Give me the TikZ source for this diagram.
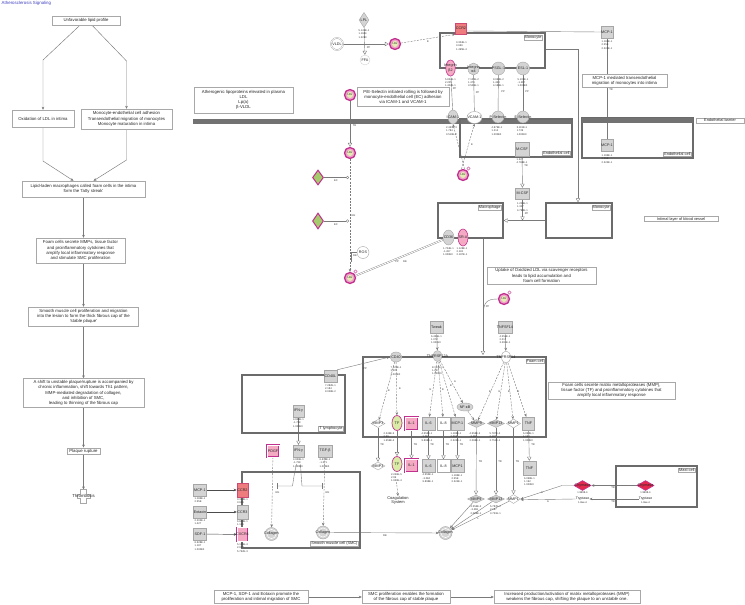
\documentclass[tikz,border=0pt]{standalone}
\usepackage{fontspec}
\setmainfont{Liberation Sans}
\usetikzlibrary{shapes.geometric,arrows.meta,calc}
\pgfdeclarelayer{back}
\pgfdeclarelayer{bg}
\pgfsetlayers{back,bg,main}
\newcommand{\fsz}[2]{\fontsize{#1}{#2}\selectfont}
\newcommand{\numC}{2.246E-5\\2.99\\1.659E-4}
\newcommand{\numD}{4.555E-1\\-3.084\\9.898E-1}
\newcommand{\numE}{1.186E-1\\2.55E\\2.324E-1}
\definecolor{gfill}{HTML}{D4D4D4}
\definecolor{gdraw}{HTML}{A6A6A6}
\definecolor{boxc}{HTML}{A8A8A8}
\definecolor{compc}{HTML}{6B6B6B}
\definecolor{barc}{HTML}{727272}
\definecolor{linec}{HTML}{7A7A7A}
\definecolor{titlec}{HTML}{3F3FC0}
\definecolor{mag}{HTML}{C2308F}
\definecolor{ldlpink}{HTML}{EFA3C9}
\definecolor{ldlgreen}{HTML}{E3EDB2}
\definecolor{pfill}{HTML}{F4AAC2}
\definecolor{sfill}{HTML}{EE7C7E}
\definecolor{sdraw}{HTML}{CF4A72}
\definecolor{tfgreen}{HTML}{D8ECA6}
\definecolor{dgreen}{HTML}{A5CB6C}
\definecolor{redc}{HTML}{E5284E}
\definecolor{numc}{HTML}{333333}
\tikzset{
  lab/.style={font=\fsz{3.7}{4.3}, align=center, inner sep=0pt, text=black!85},
  L/.style={label={[lab]center:#1}},
  tbox/.style={draw=boxc, line width=0.4pt, fill=white, font=\fsz{4.3}{5.2}, align=center, inner sep=0pt, text=black!85},
  comp/.style={draw=compc, line width=1.3pt, inner sep=0pt},
  clab/.style={draw=boxc, line width=0.35pt, fill=white, font=\fsz{3.9}{4.4}, inner sep=0.8pt, text=black!85},
  gbox/.style={rectangle, draw=gdraw, line width=0.4pt, fill=gfill, minimum width=12pt, minimum height=12pt, inner sep=0pt},
  wbox/.style={gbox, fill=white},
  pbox/.style={gbox, fill=pfill, draw=mag, line width=0.45pt, double=white, double distance=0.7pt},
  sbox/.style={gbox, fill=sfill, draw=sdraw, line width=0.6pt},
  gell/.style={ellipse, draw=gdraw, line width=0.4pt, fill=gfill, inner sep=0pt},
  well/.style={gell, fill=white},
  pell/.style={gell, fill=pfill, draw=mag, line width=0.6pt},
  tfell/.style={gell, fill=tfgreen, draw=mag, line width=0.7pt, minimum width=10pt, minimum height=15pt},
  gcir/.style={circle, draw=gdraw, line width=0.4pt, fill=gfill, inner sep=0pt},
  coll/.style={gcir, minimum size=13pt, path picture={\draw[white, line width=0.5pt] (path picture bounding box.center) circle (4.6pt);}},
  gdia/.style={diamond, draw=gdraw, line width=0.4pt, fill=gfill, inner sep=0pt, minimum width=17pt, minimum height=8pt},
  wdia/.style={gdia, fill=white},
  rdia/.style={diamond, draw=mag, line width=0.6pt, fill=redc, inner sep=0pt, minimum width=17pt, minimum height=10pt},
  mdia/.style={diamond, draw=mag, line width=1pt, fill=dgreen, inner sep=0pt, minimum width=11pt, minimum height=15pt},
  ldl/.style={circle, minimum size=11pt, inner sep=0pt, draw=mag, line width=1.3pt, fill=ldlpink,
     path picture={\fill[ldlgreen] (path picture bounding box.center) circle (3pt);},
     label={[lab, font=\fsz{2.7}{3}]center:LDL}},
  nums/.style={font=\fsz{2.6}{3.4}, align=left, inner sep=0pt, anchor=north, text=numc},
  tag/.style={font=\fsz{2.6}{3}, inner sep=0pt, text=numc},
  con/.style={draw=linec, line width=0.4pt},
  dcon/.style={con, dash pattern=on 2pt off 1.2pt},
  oarr/.style={-{Triangle[open, length=4pt, width=4.2pt]}},
  sarr/.style={-{Stealth[length=3pt, width=2.6pt]}},
  carr/.style={-{Circle[open, length=3pt]}},
  barr/.style={-{Bar[width=6pt]}},
  flow/.style={draw=linec, line width=0.45pt, -{Stealth[length=3pt, width=2.6pt]}},
}
\begin{document}
\begin{tikzpicture}[x=1pt,y=-1pt]
\begin{pgfonlayer}{back}
\fill[white] (0,0) rectangle (745,605);
\end{pgfonlayer}
\useasboundingbox (0,0) rectangle (745,605);

\node[anchor=north west, font=\fsz{4.4}{5}, text=titlec, inner sep=0pt] (title) at (1.5,1.5) {Atherosclerosis Signaling};

% ---------------- left flow
\node[tbox, minimum width=68pt, minimum height=9pt] (u) at (86,20.5) {Unfavorable lipid profile};
\node[tbox, minimum width=62pt, minimum height=17pt] (ox) at (43,118.5) {Oxidation of LDL in intima};
\node[tbox, minimum width=91pt, minimum height=20pt] (mo) at (126.5,119) {Monocyte-endothelial cell adhesion\\Transendothelial migration of monocytes\\Monocyte maturation in intima};
\node[tbox, minimum width=123pt, minimum height=16pt] (lip) at (83.5,189) {Lipid-laden macrophages called foam cells in the intima\\form the `fatty streak'};
\node[tbox, minimum width=89pt, minimum height=25pt] (fc) at (80.5,250.5) {Foam cells secrete MMPs, tissue factor\\and proinflammatory cytokines that\\amplify local inflammatory response\\and stimulate SMC proliferation};
\node[tbox, minimum width=110pt, minimum height=19pt] (smcp) at (83.5,316.5) {Smooth muscle cell proliferation and migration\\into the lesion to form the thick fibrous cap of the\\`stable plaque'};
\node[tbox, minimum width=121pt, minimum height=29pt] (shift) at (83.5,393) {A shift to unstable plaque/rupture is accompanied by\\chronic inflammation, shift towards Th1 pattern,\\MMP-mediated degradation of collagen,\\and inhibition of SMC,\\leading to thinning of the fibrous cap};
\node[tbox, minimum width=33pt, minimum height=6.5pt] (pr) at (83.5,451) {Plaque rupture};
\draw[boxc, line width=0.4pt, fill=white] (80.5,489.5) -- (86.5,489.5) -- (86.5,494) -- (90,494) -- (90,498.5) -- (86.5,498.5) -- (86.5,503) -- (80.5,503) -- (80.5,498.5) -- (77,498.5) -- (77,494) -- (80.5,494) -- cycle;
\node[lab, font=\fsz{4.3}{5}] (thr) at (83.5,496) {Thrombosis};

% ---------------- compartments and bars
\fill[barc] (193,118.5) rectangle (572,123.5);
\node[comp, minimum width=105pt, minimum height=35pt] (monot) at (492.5,50.5) {};
\node[clab, anchor=north east] (monotl) at (542.5,34.5) {Monocyte};
\node[comp, minimum width=112pt, minimum height=38pt] (endom) at (516,138) {};
\node[clab, anchor=south east] (endoml) at (570.5,155.5) {Endothelial cell};
\node[comp, minimum width=111pt, minimum height=40pt] (endor) at (637.5,138) {};
\fill[barc] (582,118) rectangle (693,123);
\node[clab, anchor=south east] (endorl) at (691.5,156.5) {Endothelial cell};
\node[clab, minimum width=48pt] (ebar) at (720,120.5) {Endothelial barrier};
\node[comp, minimum width=65pt, minimum height=35pt] (macro) at (470.5,220.5) {};
\node[clab, anchor=north east] (macrol) at (501.5,204.5) {Macrophage};
\node[comp, minimum width=66pt, minimum height=35pt] (monol) at (579,220.5) {};
\node[clab, anchor=north east] (monoll) at (610.5,204.5) {Monocyte};
\node[comp, minimum width=183pt, minimum height=80pt] (foam) at (454.5,397) {};
\node[clab, anchor=north east] (foaml) at (544.5,358.5) {Foam cell};
\node[comp, minimum width=103pt, minimum height=58pt] (tly) at (293.5,404) {};
\node[clab, anchor=south east] (tlyl) at (343.5,431.5) {T lymphocyte};
\node[comp, minimum width=118pt, minimum height=76pt] (smc) at (301,510) {};
\node[clab, anchor=south east] (smcl) at (358.5,546.5) {Smooth muscle cell (SMC)};
\node[comp, minimum width=81pt, minimum height=41pt] (mast) at (656.5,486.5) {};
\node[clab, anchor=north east] (mastl) at (695.5,467.5) {Mast cell};
\node[clab, minimum width=74pt] (intimal) at (681,219) {Intimal layer of blood vessel};

% ---------------- text boxes
\node[tbox, minimum width=99pt, minimum height=26pt] (athero) at (243.5,100) {Atherogenic lipoproteins elevated in plasma\\LDL\\Lp(a)\\β-VLDL};
\node[tbox, minimum width=92pt, minimum height=19pt] (pesel) at (403,97) {P/E-Selectin initiated rolling is followed by\\monocyte-endothelial cell (EC) adhesion\\via ICAM-1 and VCAM-1};
\node[tbox, minimum width=85pt, minimum height=13pt] (mcpt) at (624.5,80.5) {MCP-1 mediated transendothelial\\migration of monocytes into intima};
\node[tbox, minimum width=109pt, minimum height=17pt] (uptake) at (541.5,275.5) {Uptake of Oxidized LDL via scavenger receptors\\leads to lipid accumulation and\\foam cell formation};
\node[tbox, minimum width=127pt, minimum height=17pt] (fcright) at (611.5,390.5) {Foam cells secrete matrix metalloproteases (MMP),\\tissue factor (TF) and proinflammatory cytokines that\\amplify local inflammatory response};
\node[tbox, minimum width=94pt, minimum height=13pt] (b1) at (261,597) {MCP-1, SDF-1 and Eotaxin promote the\\proliferation and intimal migration of SMC};
\node[tbox, minimum width=88pt, minimum height=13pt] (b2) at (406,597) {SMC proliferation enables the formation\\of the fibrous cap of stable plaque};
\node[tbox, minimum width=146pt, minimum height=13pt] (b3) at (567,597) {Increased production/activation of matrix metalloproteases (MMP)\\weakens the fibrous cap, shifting the plaque to an unstable one.};

% ---------------- top molecules
\node[gdia, minimum width=10pt, minimum height=15pt, L=LPL] (lpl) at (364,20) {};
\node[nums] (lpln) at (364,29.5) {5.149E-1\\1.1604\\1.3280};
\node[circle, draw=gdraw, line width=0.4pt, double=white, double distance=0.6pt, fill=white, minimum size=12pt, inner sep=0pt, L=VLDL] (vldl) at (337,44) {};
\node[circle, draw=gdraw!60, line width=0.3pt, minimum size=10pt, inner sep=0pt, L=FFA] (ffa) at (365,60) {};
\node[ldl] (ldl1) at (395,44) {};
\node[sbox, minimum width=11pt, minimum height=11pt, L=CCR2] (ccr2t) at (461,28.5) {};
\node[nums] (ccr2tn) at (461.5,41.5) {3.304E-1\\3.666\\1.495E-4};
\node[gbox, L=MCP-1] (mcp1t) at (607,32) {};
\node[nums] (mcp1tn) at (607,40.5) {\numE};

\node[pell, minimum width=9.5pt, minimum height=16pt, L={Integrin\\β2}] (itb2) at (450.5,68) {};
\node[gell, minimum width=11pt, minimum height=12pt, L={Integrin\\α4}] (ita4) at (473.5,69) {};
\node[gcir, minimum size=13pt, L=PSGL-1] (psgl) at (498.5,68.5) {};
\node[gcir, minimum size=13pt, L=ESL-1] (esl) at (523,68.5) {};
\node[nums] (itb2n) at (450.5,78) {5.834E-1\\2.205\\1.402E-1};
\node[nums] (ita4n) at (473.5,78) {7.106E-2\\1.478\\3.506E-1};
\node[nums] (psgln) at (498.5,78) {9.068E-2\\1.463\\4.186E-1};
\node[nums] (esln) at (523,78) {5.105E-1\\-1.267\\1.000E0};

\node[gell, minimum width=10pt, minimum height=14pt, L=ICAM-1] (icam) at (453,117) {};
\node[well, minimum width=15pt, minimum height=12pt, L=VCAM-1] (vcam) at (474.5,117.5) {};
\node[gcir, minimum size=12pt, L=P-Selectin] (psel) at (498,117) {};
\node[gcir, minimum size=12pt, L=E-Selectin] (esel) at (523,117) {};
\node[nums] (icamn) at (451.5,126.5) {2.461E-3\\1.784\\3.519E-2};
\node[nums] (pseln) at (497,126.5) {4.879E-1\\1.214\\1.000E0};
\node[nums] (eseln) at (522,126.5) {5.119E-1\\1.739\\1.000E0};

\node[gbox, minimum width=14pt, minimum height=14pt, L=M-CSF] (mcsfu) at (522,149.5) {};
\node[nums] (mcsfun) at (522,158.5) {1.327\\4.788E-1};
\node[gbox, minimum width=14pt, minimum height=11pt, L=M-CSF] (mcsfl) at (522.5,193.5) {};
\node[nums] (mcsfln) at (522.5,202.5) {1.206E-1\\1.327\\4.788E-1};
\node[gbox, L=MCP-1] (mcp1e) at (607,145.5) {};
\node[nums] (mcp1en) at (607,154.5) {\numE};

% ---------------- lipids
\node[ldl] (ldl2) at (350,95) {};
\node[ldl] (ldl3) at (350,153) {};
\node[ldl] (ldlx) at (463,175) {};
\node[ldl] (ldl4) at (350,278) {};
\node[ldl] (ldl5) at (504,299) {};
\foreach \q in {ldlx,ldl4,ldl5}{\draw[mag, line width=0.35pt, fill=white] ($(\q.center)+(5.5,-6.5)$) circle (1.6pt);}
\node[mdia] (d1) at (318,177.5) {};
\node[mdia, minimum height=16pt] (d2) at (318,221) {};
\node[circle, draw=gdraw, line width=0.4pt, fill=white, minimum size=12pt, inner sep=0pt, L=ROS] (ros) at (363,252.5) {};
\coordinate (c1) at (349,177.5);
\coordinate (c2) at (349,221);
\coordinate (c3) at (351.5,262);

\node[gell, minimum width=11pt, minimum height=15pt, L=CD36] (cd36) at (448.5,237.5) {};
\node[pell, minimum width=10pt, minimum height=17pt, L=SR-A] (sra) at (463,237.5) {};
\node[nums] (cd36n) at (448.5,247) {1.704E-1\\-1.267\\1.000E0};
\node[nums] (sran) at (462,247) {1.128E-1\\2.181\\2.187E-1};

% ---------------- foam cell
\node[gell, minimum width=12pt, minimum height=10pt, L=CD40] (cd40) at (396,357) {};
\node[nums] (cd40n) at (396,366.5) {7.125E-1\\1.305\\1.000E0};
\node[gbox, minimum width=13pt, minimum height=12pt, L=Tweak] (tweak) at (436.5,327.5) {};
\node[nums] (tweakn) at (436.5,335) {6.456E-1\\1.072\\1.000E0};
\node[gell, minimum width=9pt, minimum height=11pt, L=TNFRSF12A] (tnfr12) at (437.5,356) {};
\node[nums] (tnfr12n) at (437.5,366) {8.123E-1\\1.241\\1.000E0};
\node[gbox, minimum width=14pt, minimum height=12pt, L=TNFSF14] (tnfsf14) at (505,327.5) {};
\node[nums] (tnfsf14n) at (505,335) {4.550E-1\\2.017\\3.290E-1};
\node[well, minimum width=9pt, minimum height=12pt, L=TNFRSF14] (tnfr14) at (506,357) {};

\node[wdia, minimum width=14pt, minimum height=8pt, L=MMP3] (mmp3u) at (378,423.5) {};
\node[tfell, L=TF] (tfu) at (397,423) {};
\node[pbox, minimum width=13pt, minimum height=13pt, L=IL-1] (il1u) at (411.5,423.5) {};
\node[gbox, minimum width=13pt, minimum height=13pt, L=IL-6] (il6u) at (428.5,423.5) {};
\node[wbox, minimum width=13pt, minimum height=13pt, L=IL-8] (il8u) at (443.5,423.5) {};
\node[gbox, minimum width=13pt, minimum height=13pt, L=MCP-1] (mcp1u) at (457.5,423.5) {};
\node[gell, minimum width=16pt, minimum height=8pt, L=NF-κB] (nfkb) at (465,407) {};
\node[gdia, L=MMP9] (mmp9u) at (476.5,423.5) {};
\node[gdia, L=MMP13] (mmp13u) at (496,423.5) {};
\node[wdia, minimum width=14pt, minimum height=9pt, L=MMP1] (mmp1u) at (513.5,423.5) {};
\node[gbox, minimum width=12pt, minimum height=13pt, L=TNF] (tnfu) at (528.5,423.5) {};
\node[nums] (tfun) at (389,432.5) {\numC};
\node[nums] (il6un) at (427,432.5) {\numD};
\node[nums] (mcp1un) at (456,432.5) {\numE};
\node[nums] (mmp9un) at (475,432.5) {4.556E-2\\-3.468\\2.068E-1};
\node[nums] (mmp13un) at (495,432.5) {5.787E-2\\2.187\\3.751E-1};
\node[nums] (tnfun) at (528.5,432.5) {6.098E-1\\1.192\\1.000E0};

% ---------------- lower row
\node[wdia, minimum width=14pt, minimum height=8pt, L=MMP3] (mmp3l) at (378,466) {};
\node[tfell, L=TF] (tfl) at (397,464) {};
\node[pbox, minimum width=13pt, minimum height=13pt, L=IL-1] (il1l) at (411.5,465.5) {};
\node[gbox, minimum width=13pt, minimum height=13pt, L=IL-6] (il6l) at (428.5,466) {};
\node[wbox, minimum width=13pt, minimum height=13pt, L=IL-8] (il8l) at (443.5,466) {};
\node[gbox, minimum width=13pt, minimum height=13pt, L=MCP1] (mcp1l) at (457.5,466) {};
\node[gbox, minimum width=13pt, minimum height=14pt, L=TNF] (tnfl) at (529.5,468) {};
\node[nums] (tfln) at (396.5,473) {\numC};
\node[nums] (il6ln) at (428,474) {\numD};
\node[nums] (mcp1ln) at (457,474) {\numE};
\node[nums] (tnfln) at (529.5,477) {6.098E-1\\1.192\\1.000E0};
\node[lab, font=\fsz{4}{4.8}] (coag) at (398,500.5) {Coagulation\\System};
\node[gdia, L=MMP9] (mmp9l) at (476,499) {};
\node[gdia, L=MMP13] (mmp13l) at (496,499) {};
\node[wdia, minimum width=14pt, minimum height=9pt, L=MMP1] (mmp1l) at (513.5,499) {};
\node[nums] (mmp9ln) at (476,505.5) {4.556E-2\\-3.468\\2.068E-1};
\node[nums] (mmp13ln) at (495.5,505.5) {5.787E-2\\2.187\\3.751E-1};
\node[coll, L=Collagen] (colf) at (445.5,533) {};

% ---------------- T lymphocyte and SMC
\node[gbox, minimum width=13pt, minimum height=12pt, L=CD40L] (cd40l) at (330.5,376) {};
\node[nums] (cd40ln) at (330.5,384) {7.282E-1\\2.184\\9.028E-2};
\node[gbox, minimum width=11pt, minimum height=12pt, L=IFN-γ] (ifng1) at (298.5,411) {};
\node[nums] (ifng1n) at (298.5,418.5) {4.656E-1\\-1.738\\1.000E0};
\node[gbox, minimum width=11pt, minimum height=12pt, L=IFN-γ] (ifng2) at (298.5,451) {};
\node[nums] (ifng2n) at (298.5,458.5) {4.656E-1\\-1.738\\1.000E0};
\node[gbox, minimum width=14pt, minimum height=12pt, L=TGF-β] (tgfb) at (325,451) {};
\node[nums] (tgfbn) at (325,458.5) {6.636E-1\\-1.071\\1.000E0};
\node[pbox, minimum width=12pt, minimum height=12pt, L=PDGF] (pdgf) at (273,451) {};

\node[sbox, minimum width=11pt, minimum height=14pt, L=CCR2] (ccr2s) at (242.5,490) {};
\node[nums] (ccr2sn) at (242.5,498.5) {3.304E-1\\3.666};
\node[gbox, minimum width=11pt, minimum height=14pt, L=CCR3] (ccr3s) at (242.5,512) {};
\node[nums] (ccr3sn) at (242.5,520.5) {6.848E-1\\1.106};
\node[pbox, minimum width=11pt, minimum height=14pt, L=CXCR4] (cxcr4) at (242.5,534.5) {};
\node[nums] (cxcr4n) at (242.5,543.5) {5.155E-4\\2.697\\5.762E-3};
\node[gbox, minimum width=13pt, minimum height=12pt, L=MCP-1] (mcp1s) at (200,490) {};
\node[nums] (mcp1sn) at (200,497.5) {1.186E-1\\2.55E};
\node[gbox, minimum width=13pt, minimum height=12pt, L=Eotaxin] (eotax) at (200,512) {};
\node[nums] (eotaxn) at (200,519.5) {2.203E-1\\1.427};
\node[gbox, minimum width=13pt, minimum height=12pt, L=SDF-1] (sdf1) at (200,534) {};
\node[nums] (sdf1n) at (200,541.5) {6.628E-1\\1.187\\1.000E0};
\node[coll, L=Collagen] (cols1) at (271.5,534) {};
\node[coll, L=Collagen] (cols2) at (323,532.5) {};
\coordinate (ib1) at (276.5,486);
\coordinate (ib2) at (322.5,486);

% ---------------- mast cell
\node[rdia, L=Chymase] (chym) at (645.5,485.5) {};
\node[nums] (chymn) at (645.5,491.5) {1.9998-4};
\node[lab, font=\fsz{3.5}{4}] (trym) at (645.5,499) {Tryptase};
\node[nums] (trymn) at (645.5,501.5) {1.8ae-4};
\node[rdia, L=Chymase] (chyo) at (582.5,485.5) {};
\node[nums] (chyon) at (582.5,491.5) {1.9998-4};
\node[lab, font=\fsz{3.5}{4}] (tryo) at (582.5,499) {Tryptase};
\node[nums] (tryon) at (582.5,501.5) {1.8ae-4};

% ---------------- tags
\node[tag] (t1) at (368.5,48) {PP};
\node[tag] (t2) at (428,42) {E};
\node[tag] (t3) at (454.5,89) {PP};
\node[tag] (t4) at (477.5,93) {PP};
\node[tag] (t5) at (503,91.5) {PP};
\node[tag] (t6) at (527,91.5) {PP};
\node[tag] (t7) at (354.5,126) {TR};
\node[tag] (t8) at (472,145) {E};
\node[tag] (t9) at (526,166) {TR};
\node[tag] (t10) at (526.5,213.5) {PP};
\node[tag] (t11) at (336,181) {EC};
\node[tag] (t12) at (336,224.5) {EC};
\node[tag] (t13) at (353.5,216) {RE};
\node[tag] (t14) at (355,256) {RE};
\node[tag] (t15) at (397,262) {PP};
\node[tag] (t16) at (405,262) {RE};
\node[tag] (t17) at (487.5,307) {PP};
\node[tag] (t18) at (611,89.5) {TR};
\node[tag] (t19) at (365,368.5) {PP};
\node[tag] (t20) at (389,391) {E};
\node[tag] (t21) at (400,389) {E};
\node[tag] (t22) at (430.5,390) {E};
\node[tag] (t23) at (443,390) {E};
\node[tag] (t24) at (451,386) {E};
\node[tag] (t25) at (455,382) {A};
\node[tag] (t26) at (490,392) {E};
\node[tag] (t27) at (499.5,392) {E};
\node[tag] (t28) at (509,392) {E};
\node[tag] (t29) at (518.5,392) {E};
\node[tag] (t30) at (382,445) {TR};
\node[tag] (t31) at (415.5,445) {TR};
\node[tag] (t32) at (432,445) {TR};
\node[tag] (t33) at (447.5,445) {TR};
\node[tag] (t34) at (461.5,445) {TR};
\node[tag] (t35) at (533,445) {TR};
\node[tag] (t36) at (480.5,462) {TR};
\node[tag] (t37) at (500,462) {TR};
\node[tag] (t38) at (517.5,462) {TR};
\node[tag] (t39) at (478,519) {L};
\node[tag] (t40) at (277.5,492.5) {RE};
\node[tag] (t41) at (327.5,492.5) {RE};
\node[tag] (t42) at (385,535.5) {RE};
\node[tag] (t43) at (613,488) {TR};
\node[tag] (t44) at (613,501.5) {TR};
\node[tag] (t45) at (542,493) {A};
\node[tag] (t46) at (548,501.5) {A};

% ---------------- connectors
\begin{pgfonlayer}{bg}
\draw[flow] ($(u.south)+(-6,0)$) -- (43,60) -- (ox.north);
\draw[flow] ($(u.south)+(6,0)$) -- (126.5,61) -- (mo.north);
\draw[flow] (ox.south) -- (43,161) -- ($(lip.north)+(-10,0)$);
\draw[flow] (mo.south) -- (126.5,160) -- ($(lip.north)+(10,0)$);
\draw[flow] (lip.south) -- (lip.south |- fc.north);
\draw[flow] (smcp.north |- fc.south) -- (smcp.north);
\draw[flow] (smcp.south) -- (shift.north);
\draw[flow] (shift.south) -- (pr.north);
\draw[flow] (pr.south) -- (83.5,489.5);

\draw[con,oarr] (vldl) -- (ldl1);
\draw[con,oarr] (lpl) -- (ffa);
\draw[dcon,sarr] (ldl1) -- (ccr2t.south west);
\draw[con] ($(ccr2t.east)+(0,2.5)$) -- (mcp1t.west);
\draw[con] (mcp1e) -- (mcp1t);
\draw[con,oarr] ($(monot.east)+(0,-1.5)$) -| ($(monol.north)+(-1,0)$);
\draw[con] (itb2) -- (icam);
\draw[con] (ita4) -- (vcam);
\draw[con] (psgl) -- (psel);
\draw[con] (esl) -- (esel);
\draw[dcon,sarr] ($(ldlx.north)+(1.5,0)$) -- (icam.south);
\draw[dcon,sarr] ($(ldlx.north)+(-1.5,0)$) -- (vcam.south);
\draw[con,oarr] (ldl2) -- (ldl3);
\draw[dcon,sarr] (ldl3) -- (ldl4);
\draw[con,carr] (d1) -- (c1);
\draw[con,carr] (d2) -- (c2);
\draw[con] (ros.west) -| (c3);
\draw[con, double=white, double distance=0.9pt, line width=0.35pt] (ldl4) -- (cd36);
\draw[con,oarr] (mcsfu) -- (mcsfl);
\coordinate (j1) at (522.5,220.5);
\draw[con,oarr] (mcsfl) -- (j1);
\draw[con,oarr] (monol.west) -- (macro.east);
\coordinate (mf1) at (483,238);
\coordinate (mf2) at (483,355);
\draw[con,oarr] (mf1) -- (mf2);
\draw[con] (ldl5.west) .. controls (487,299) and (483.5,302) .. (483.3,314);

\draw[con,sarr] (cd40l.north east) -- (cd40.west);
\draw[con,sarr] (tweak) -- (tnfr12);
\draw[con,sarr] (tnfsf14) -- (tnfr14);
\draw[dcon,sarr] (cd40) -- (mmp3u);
\draw[dcon,sarr] (cd40) -- (tfu);
\draw[dcon,sarr] (tnfr12) -- (il6u);
\draw[dcon,sarr] (tnfr12) -- (il8u);
\draw[dcon,sarr] (tnfr12) -- (mcp1u);
\draw[dcon,sarr] (tnfr12) -- (nfkb);
\draw[dcon,sarr] (nfkb) -- (mmp9u);
\draw[dcon,sarr] (tnfr14) -- (mmp9u);
\draw[dcon,sarr] (tnfr14) -- (mmp13u);
\draw[dcon,sarr] (tnfr14) -- (mmp1u);
\draw[dcon,sarr] (tnfr14) -- (tnfu);
\draw[con,oarr] (mmp3u) -- (mmp3l);
\draw[con,oarr] (tfu) -- (tfl);
\draw[con,oarr] (il1u) -- (il1l);
\draw[con,oarr] (il6u) -- (il6l);
\draw[con,oarr] (il8u) -- (il8l);
\draw[con,oarr] (mcp1u) -- (mcp1l);
\draw[con,oarr] (tnfu) -- (tnfl);
\draw[con,oarr] (mmp9u) -- (mmp9l);
\draw[con,oarr] (mmp13u) -- (mmp13l);
\draw[con,oarr] (mmp1u) -- (mmp1l);
\draw[dcon,sarr] (tfln.south) -- (coag.north);
\draw[con,sarr] (mmp9l) -- (colf);
\draw[con,sarr] (mmp13l) -- (colf);
\draw[con,sarr] (mmp1l) -- (colf);

\draw[con,oarr] (ifng1) -- (ifng2);
\draw[dcon,sarr] (pdgf) -- (cols1);
\draw[dcon,sarr] (tgfb) -- (cols2);
\draw[con,barr] ($(ifng2.south)+(-2,7)$) -- (294.5,473) -- (292.5,486) -- (ib1);
\draw[con,barr] ($(ifng2.south)+(2,7)$) -- (301,473) -- (302,486) -- (ib2);
\draw[con,sarr] (cols2) -- (colf);
\draw[sarr, draw=black!70, line width=0.45pt] (mcp1s) -- (ccr2s);
\draw[sarr, draw=black!70, line width=0.45pt] (eotax) -- (ccr3s);
\draw[sarr, draw=black!70, line width=0.45pt] (sdf1) -- (cxcr4);

\draw[con,sarr] (chym) -- (chyo);
\draw[con,sarr] (trym) -- (tryo);
\draw[con,sarr] (chyo.west) -- (562,485.5) -- (mmp1l.east);
\draw[con,sarr] (tryo.west) -- ($(mmp1l.east)+(0,0.8)$);

\draw[flow] (b1) -- (b2);
\draw[flow] (b2) -- (b3);
\end{pgfonlayer}
\end{tikzpicture}
\end{document}
